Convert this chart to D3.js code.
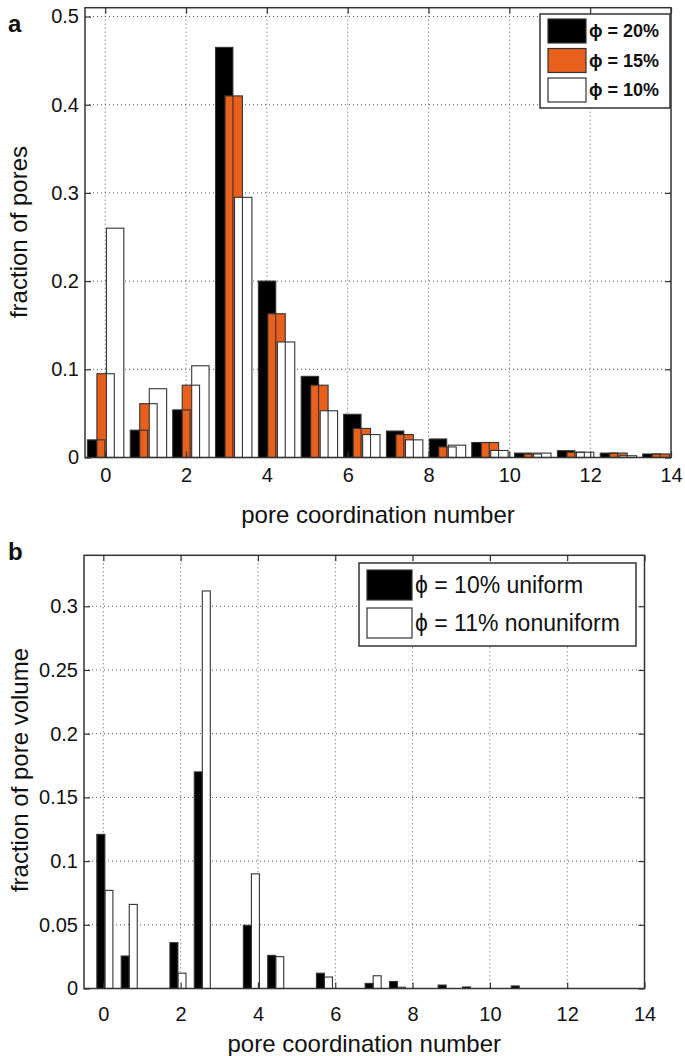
<!DOCTYPE html>
<html><head><meta charset="utf-8">
<script src="https://cdn.jsdelivr.net/npm/d3@7"></script>
<style>
body{margin:0;background:#fff;}
text{font-family:"Liberation Sans",Arial,sans-serif;fill:#111;}
</style></head>
<body><svg id="c" width="685" height="1056"></svg>
<script>
// ---------- Panel a data ----------
const binsA = [0.01, 1.07, 2.12, 3.18, 4.24, 5.30, 6.35, 7.41, 8.47, 9.52, 10.58, 11.64, 12.70, 13.75];
const seriesA = ["ϕ = 20%", "ϕ = 15%", "ϕ = 10%"];
const phi20 = [0.020, 0.031, 0.054, 0.465, 0.200, 0.092, 0.049, 0.030, 0.021, 0.017, 0.005, 0.0077, 0.005, 0.004];
const phi15 = [0.095, 0.061, 0.082, 0.410, 0.163, 0.082, 0.033, 0.026, 0.012, 0.017, 0.004, 0.006, 0.005, 0.004];
const phi10 = [0.260, 0.078, 0.104, 0.295, 0.131, 0.053, 0.026, 0.020, 0.014, 0.008, 0.005, 0.006, 0.002, 0.000];
const yTicksA = [0, 0.1, 0.2, 0.3, 0.4, 0.5];
const yTickLabelsA = ["0", "0.1", "0.2", "0.3", "0.4", "0.5"];
const xTicks = [0, 2, 4, 6, 8, 10, 12, 14];
const xTickLabels = ["0", "2", "4", "6", "8", "10", "12", "14"];

// ---------- Panel b data ----------
const binsB = [0.04, 0.67, 1.30, 1.93, 2.56, 3.20, 3.83, 4.46, 5.09, 5.72, 6.35, 6.98, 7.61, 8.24, 8.87, 9.50, 10.13, 10.76];
const seriesB = ["ϕ = 10% uniform", "ϕ = 11% nonuniform"];
const uniform10 = [0.121, 0.0255, 0, 0.036, 0.170, 0, 0.0496, 0.026, 0, 0.012, 0, 0.004, 0.0055, 0, 0.0027, 0.0012, 0, 0.002];
const nonuniform11 = [0.077, 0.066, 0, 0.012, 0.312, 0, 0.090, 0.025, 0, 0.009, 0, 0.010, 0.001, 0, 0, 0, 0, 0];
const yTicksB = [0, 0.05, 0.1, 0.15, 0.2, 0.25, 0.3];
const yTickLabelsB = ["0", "0.05", "0.1", "0.15", "0.2", "0.25", "0.3"];

const svg = d3.select("#c");
const edge = "#333";
const orange = "#e9601d";

function panel(cfg) {
  const g = svg.append("g");
  const x = d3.scaleLinear().domain(cfg.xDomain).range([cfg.left, cfg.right]);
  const y = d3.scaleLinear().domain(cfg.yDomain).range([cfg.bottom, cfg.top]);
  // grid
  g.append("g").selectAll("line").data(xTicks.filter(d => d > cfg.xDomain[0] && d < cfg.xDomain[1])).join("line")
    .attr("x1", d => x(d)).attr("x2", d => x(d)).attr("y1", cfg.top).attr("y2", cfg.bottom)
    .attr("stroke", "#555").attr("stroke-width", 1).attr("stroke-dasharray", "1,3");
  g.append("g").selectAll("line").data(cfg.yTicks.filter(d => d > 0)).join("line")
    .attr("x1", cfg.left).attr("x2", cfg.right).attr("y1", d => y(d)).attr("y2", d => y(d))
    .attr("stroke", "#555").attr("stroke-width", 1).attr("stroke-dasharray", "1,3");
  // bars: fills first, then outlines on top
  const rects = [];
  cfg.series.forEach((s, si) => {
    s.values.forEach((v, i) => {
      if (v <= 0) return;
      const cx = cfg.bins[i] + s.offset;
      rects.push({x0: cx - cfg.barW / 2, x1: cx + cfg.barW / 2, v, fill: s.fill});
    });
  });
  const bg = g.append("g");
  bg.selectAll("rect.f").data(rects).join("rect").attr("class", "f")
    .attr("x", d => x(d.x0)).attr("width", d => x(d.x1) - x(d.x0))
    .attr("y", d => y(d.v)).attr("height", d => y(0) - y(d.v))
    .attr("fill", d => d.fill);
  bg.selectAll("rect.o").data(rects).join("rect").attr("class", "o")
    .attr("x", d => x(d.x0)).attr("width", d => x(d.x1) - x(d.x0))
    .attr("y", d => y(d.v)).attr("height", d => y(0) - y(d.v))
    .attr("fill", "none").attr("stroke", edge).attr("stroke-width", 1.1);
  // axes
  const fs = "20px";
  const ax = g.append("g").attr("transform", `translate(0,${cfg.bottom})`)
    .call(d3.axisBottom(x).tickValues(xTicks).tickFormat((d, i) => xTickLabels[i]).tickSizeInner(-6).tickSizeOuter(0).tickPadding(cfg.xPad));
  const ax2 = g.append("g").attr("transform", `translate(0,${cfg.top})`)
    .call(d3.axisTop(x).tickValues(xTicks).tickFormat("").tickSizeInner(-6).tickSizeOuter(0));
  const ay = g.append("g").attr("transform", `translate(${cfg.left},0)`)
    .call(d3.axisLeft(y).tickValues(cfg.yTicks).tickFormat((d, i) => cfg.yTickLabels[i]).tickSizeInner(-6).tickSizeOuter(0).tickPadding(6));
  const ay2 = g.append("g").attr("transform", `translate(${cfg.right},0)`)
    .call(d3.axisRight(y).tickValues(cfg.yTicks).tickFormat("").tickSizeInner(-6).tickSizeOuter(0));
  [ax, ax2, ay, ay2].forEach(a => {
    a.select(".domain").remove();
    a.selectAll(".tick line").attr("stroke", edge).attr("stroke-width", 1.2);
    a.selectAll(".tick text").attr("font-size", fs).attr("font-family", "Liberation Sans, Arial, sans-serif").attr("fill", "#111");
  });
  ax.selectAll(".tick text").attr("dy", "0.71em");
  // frame
  g.append("rect").attr("x", cfg.left).attr("y", cfg.top).attr("width", cfg.right - cfg.left).attr("height", cfg.bottom - cfg.top)
    .attr("fill", "none").attr("stroke", edge).attr("stroke-width", 1.5);
  // labels
  g.append("text").attr("x", (cfg.left + cfg.right) / 2 + cfg.xLabelDx).attr("y", cfg.xLabelY).attr("text-anchor", "middle")
    .attr("font-size", "24px").text("pore coordination number");
  g.append("text").attr("transform", `translate(${cfg.yLabelX},${cfg.yLabelCy}) rotate(-90)`).attr("text-anchor", "middle")
    .attr("font-size", "24px").text(cfg.yLabel);
  g.append("text").attr("x", 8).attr("y", cfg.letterY).attr("font-size", "24px").attr("font-weight", "bold").text(cfg.letter);
  // legend
  const L = cfg.legend;
  const lg = g.append("g");
  lg.append("rect").attr("x", L.x).attr("y", L.y).attr("width", L.w).attr("height", L.h)
    .attr("fill", "#fff").attr("stroke", edge).attr("stroke-width", 1.5);
  cfg.series.forEach((s, i) => {
    const sy = L.y + L.pad + i * L.step;
    lg.append("rect").attr("x", L.x + 8).attr("y", sy).attr("width", L.sw).attr("height", L.sh)
      .attr("fill", s.fill).attr("stroke", edge).attr("stroke-width", 1.2);
    lg.append("text").attr("x", L.x + 11 + L.sw).attr("y", sy + L.sh / 2).attr("dy", "0.36em")
      .attr("font-size", L.fs).attr("font-weight", L.fw).text(s.name);
  });
}

panel({
  xDomain: [-0.5, 14], yDomain: [0, 0.51], left: 85, right: 671, top: 7.7, bottom: 457.5,
  bins: binsA, barW: 0.43, xPad: 10,
  series: [
    {name: seriesA[0], values: phi20, offset: -0.235, fill: "#000"},
    {name: seriesA[1], values: phi15, offset: 0, fill: orange},
    {name: seriesA[2], values: phi10, offset: 0.235, fill: "#fff"}
  ],
  yTicks: yTicksA, yTickLabels: yTickLabelsA,
  xLabelY: 523, xLabelDx: 0, yLabelX: 27, yLabelCy: 232, yLabel: "fraction of pores",
  letter: "a", letterY: 32,
  legend: {x: 540, y: 14, w: 130, h: 94, pad: 5, step: 29.5, sw: 38, sh: 24, fs: "18px", fw: "bold"}
});

panel({
  xDomain: [-0.5, 14], yDomain: [0, 0.34], left: 84, right: 644.5, top: 555.3, bottom: 988.5,
  bins: binsB, barW: 0.207, xPad: 18,
  series: [
    {name: seriesB[0], values: uniform10, offset: -0.104, fill: "#000"},
    {name: seriesB[1], values: nonuniform11, offset: 0.104, fill: "#fff"}
  ],
  yTicks: yTicksB, yTickLabels: yTickLabelsB,
  xLabelY: 1052, xLabelDx: 0, yLabelX: 28, yLabelCy: 770, yLabel: "fraction of pore volume",
  letter: "b", letterY: 560,
  legend: {x: 359, y: 563, w: 277, h: 83, pad: 7, step: 38, sw: 45, sh: 30, fs: "23px", fw: "normal"}
});
</script></body></html>
